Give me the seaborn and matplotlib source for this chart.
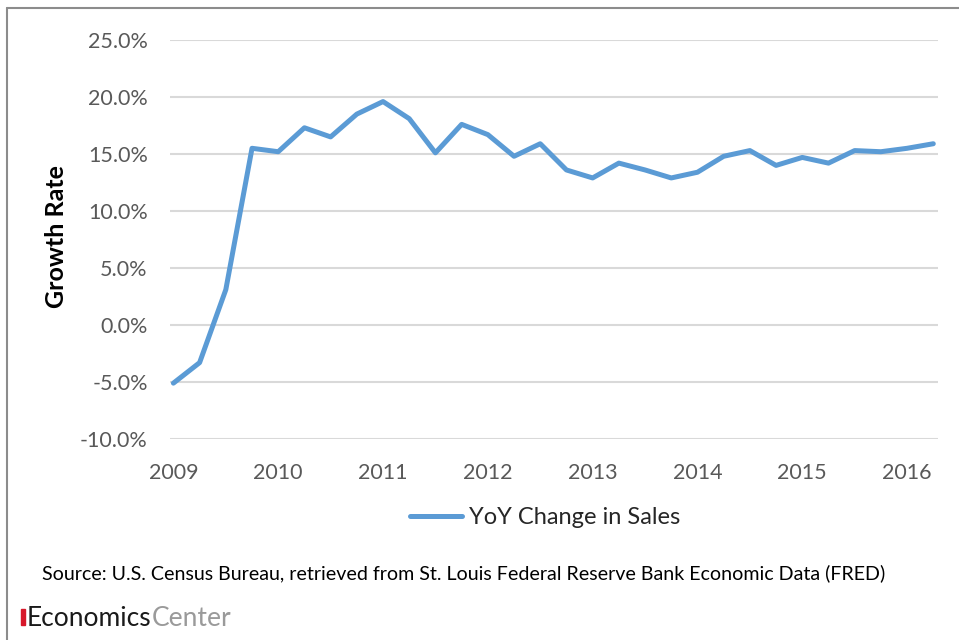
import matplotlib
matplotlib.use("Agg")
import matplotlib.pyplot as plt
import seaborn as sns
import pandas as pd
from matplotlib.lines import Line2D
from matplotlib.patches import Rectangle
from matplotlib.ticker import FuncFormatter

# ---- data ----
quarters = ["2009Q1", "2009Q2", "2009Q3", "2009Q4",
            "2010Q1", "2010Q2", "2010Q3", "2010Q4",
            "2011Q1", "2011Q2", "2011Q3", "2011Q4",
            "2012Q1", "2012Q2", "2012Q3", "2012Q4",
            "2013Q1", "2013Q2", "2013Q3", "2013Q4",
            "2014Q1", "2014Q2", "2014Q3", "2014Q4",
            "2015Q1", "2015Q2", "2015Q3", "2015Q4",
            "2016Q1", "2016Q2"]
yoy_change = [-5.1, -3.3, 3.1, 15.5,
              15.2, 17.3, 16.5, 18.5,
              19.6, 18.1, 15.1, 17.6,
              16.7, 14.8, 15.9, 13.6,
              12.9, 14.2, 13.6, 12.9,
              13.4, 14.8, 15.3, 14.0,
              14.7, 14.2, 15.3, 15.2,
              15.5, 15.9]
year_ticks = [2009, 2010, 2011, 2012, 2013, 2014, 2015, 2016]
y_ticks = [-10, -5, 0, 5, 10, 15, 20, 25]
series_name = "YoY Change in Sales"
y_label = "Growth Rate"
source_text = "Source: U.S. Census Bureau, retrieved from St. Louis Federal Reserve Bank Economic Data (FRED)"

# ---- build frame ----
t = [int(q[:4]) + (int(q[-1]) - 1) / 4 for q in quarters]
df = pd.DataFrame({"t": t, "value": yoy_change, "series": series_name})

sns.set_theme(style="white")
plt.rcParams["font.family"] = ["Lato", "DejaVu Sans"]

W, H = 959, 640
fig = plt.figure(figsize=(W / 100, H / 100), dpi=100)
ax = fig.add_axes([170 / W, 1 - 439 / H, (938 - 170) / W, (439 - 40) / H])

blue = "#5B9BD5"
sns.lineplot(data=df, x="t", y="value", ax=ax, color=blue, linewidth=3.6,
             legend=False, solid_capstyle="round", solid_joinstyle="round")

ax.set_xlim(2009 - 0.13 / 4, 2009 + 29.18 / 4)
ax.set_ylim(-10, 25)
ax.set_yticks(y_ticks)
ax.yaxis.set_major_formatter(FuncFormatter(lambda v, p: f"{v:.1f}%"))
ax.set_xticks(year_ticks)
ax.set_xticklabels([str(y) for y in year_ticks])
for s in ax.spines.values():
    s.set_visible(False)
ax.grid(axis="y", color="#D9D9D9", linewidth=1.5)
ax.grid(axis="x", visible=False)
ax.set_axisbelow(True)
ax.tick_params(axis="both", length=0, labelsize=15.5, colors="#595959")
ax.tick_params(axis="y", pad=16)
ax.tick_params(axis="x", pad=17)
ax.set_xlabel("")
ax.set_ylabel("")

fig.text(57 / W, 1 - 237 / H, y_label, rotation=90, ha="center", va="center",
         fontsize=18, fontweight="bold", color="black")

# legend
handle = Line2D([], [], color=blue, linewidth=3.6)
fig.legend([handle], [series_name], loc="center",
           bbox_to_anchor=(545 / W, 1 - 518 / H), frameon=False,
           fontsize=17, handlelength=2.2, handletextpad=0.3)

# source
fig.text(42 / W, 1 - 573 / H, source_text, ha="left", va="center",
         fontsize=14.1, color="black")

# logo
fig.patches.append(Rectangle((21 / W, 1 - 625 / H), 4 / W, 16 / H,
                             transform=fig.transFigure, color="#D7182A"))
t1 = fig.text(27 / W, 1 - 618 / H, "Economics", ha="left", va="center",
              fontsize=19, color="#1a1a1a", fontweight="normal")
fig.canvas.draw()
bb = t1.get_window_extent()
fig.text(bb.x1 / W, 1 - 618 / H, "Center", ha="left", va="center",
         fontsize=19, color="#9a9a9a", fontweight="normal")

# border
fig.add_artist(Line2D([7 / W, 1], [1 - 8 / H, 1 - 8 / H], transform=fig.transFigure,
                      color="#8c8c8c", linewidth=1.5))
fig.add_artist(Line2D([7 / W, 7 / W], [0, 1 - 8 / H], transform=fig.transFigure,
                      color="#8c8c8c", linewidth=1.5))

fig.savefig("out.png", dpi=100)
